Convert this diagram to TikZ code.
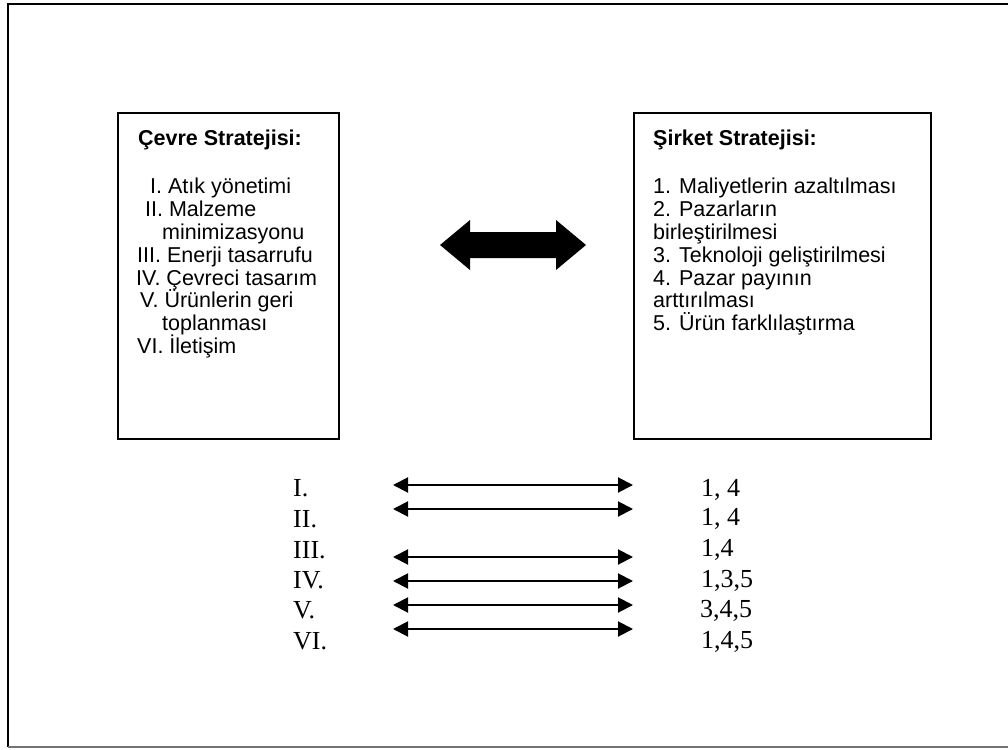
\documentclass[tikz,border=0pt]{standalone}
\usepackage{fontspec}
\setmainfont{Liberation Sans}
\newfontfamily\timesfont{Liberation Serif}
\usetikzlibrary{arrows.meta}

\tikzset{
  frame/.style={line width=2pt, black},
  stratbox/.style={draw=black, line width=1.6pt},
  boxtext/.style={anchor=base west, inner sep=0pt, font=\fontsize{21.5}{24}\selectfont},
  boxtitle/.style={boxtext, font=\fontsize{21.5}{24}\selectfont\bfseries},
  rowtext/.style={anchor=base west, inner sep=0pt, font=\timesfont\fontsize{26}{30}\selectfont},
  pairarrow/.style={line width=2pt, {Triangle[length=15pt,width=15pt]}-{Triangle[length=15pt,width=15pt]}}
}

\begin{document}
\begin{tikzpicture}[x=1pt,y=-1pt]
  \useasboundingbox (0,0) rectangle (1008,749);

  % page frame (open on the right)
  \draw[frame] (1008,4) -- (7.5,4) -- (7.5,747);
  \draw[line width=1.3pt, black!55] (7.5,747) -- (1008,747);

  % the two strategy boxes
  \node[stratbox, minimum width=221pt, minimum height=326pt, anchor=north west] (env) at (117,112) {};
  \node[stratbox, minimum width=297pt, minimum height=326pt, anchor=north west] (firm) at (633,112) {};

  % environment strategy
  \node[boxtitle] (envT) at (138,145) {Çevre Stratejisi:};
  \node[boxtext] (e1) at (150,193) {I. Atık yönetimi};
  \node[boxtext] (e2) at (145,216) {II. Malzeme};
  \node[boxtext] (e2b) at (162,239) {minimizasyonu};
  \node[boxtext] (e3) at (137,262) {III. Enerji tasarrufu};
  \node[boxtext] (e4) at (136,285) {IV. Çevreci tasarım};
  \node[boxtext] (e5) at (140,307) {V. Ürünlerin geri};
  \node[boxtext] (e5b) at (162,330) {toplanması};
  \node[boxtext] (e6) at (137,353) {VI. İletişim};

  % company strategy
  \node[boxtitle] (firmT) at (653,145) {Şirket Stratejisi:};
  \node[boxtext] (f1) at (653,193) {1. Maliyetlerin azaltılması};
  \node[boxtext] (f2) at (653,216) {2. Pazarların};
  \node[boxtext] (f2b) at (653,239) {birleştirilmesi};
  \node[boxtext] (f3) at (653,262) {3. Teknoloji geliştirilmesi};
  \node[boxtext] (f4) at (653,285) {4. Pazar payının};
  \node[boxtext] (f4b) at (653,307) {arttırılması};
  \node[boxtext] (f5) at (653,330) {5. Ürün farklılaştırma};

  % heavy two-way arrow between the strategies
  \coordinate (link) at (513,245);
  \fill[black] ([xshift=-73pt]link) -- ++(30,-25) -- ++(0,12) -- ++(86,0) -- ++(0,-12)
    -- ([xshift=73pt]link) -- ++(-30,25) -- ++(0,-12) -- ++(-86,0) -- ++(0,12) -- cycle;

  % correspondence rows
  \node[rowtext] (r1) at (293,496) {I.};
  \node[rowtext] (r2) at (293,527) {II.};
  \node[rowtext] (r3) at (293,558) {III.};
  \node[rowtext] (r4) at (293,588) {IV.};
  \node[rowtext] (r5) at (293,618) {V.};
  \node[rowtext] (r6) at (293,649) {VI.};

  \node[rowtext] (n1) at (701,496) {1, 4};
  \node[rowtext] (n2) at (701,525) {1, 4};
  \node[rowtext] (n3) at (701,556) {1,4};
  \node[rowtext] (n4) at (701,587) {1,3,5};
  \node[rowtext] (n5) at (700,617) {3,4,5};
  \node[rowtext] (n6) at (701,648) {1,4,5};

  \foreach \i/\y in {1/485, 2/509, 3/557, 4/581, 5/605, 6/629} {
    \coordinate (aL\i) at (393,\y);
    \coordinate (aR\i) at (633,\y);
    \draw[pairarrow] (aL\i) -- (aR\i);
  }
\end{tikzpicture}
\end{document}
